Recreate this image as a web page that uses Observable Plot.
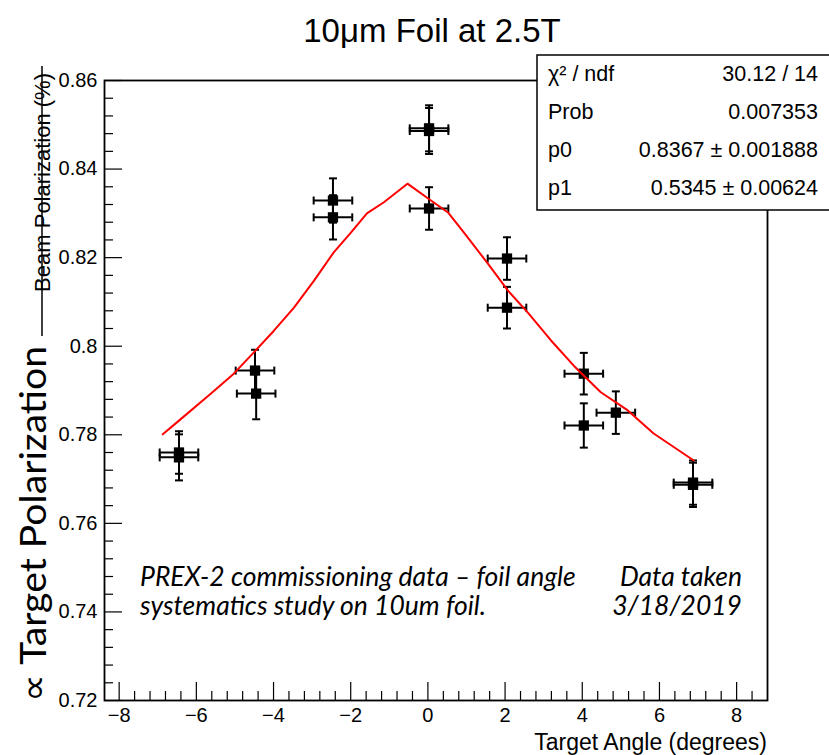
<!DOCTYPE html>
<html><head><meta charset="utf-8">
<script src="https://cdn.jsdelivr.net/npm/d3@7"></script>
<script src="https://cdn.jsdelivr.net/npm/@observablehq/plot@0.6"></script>
<style>body{margin:0;background:#fff;}</style>
</head><body><div id="chart"></div>
<script>
// Measured points (Target Angle in degrees, polarization)
const angle    = [-6.45, -6.45, -4.48, -4.45, -2.46, -2.46, 0.03, 0.03, 0.03, 2.05, 2.05, 4.04, 4.04, 4.87, 6.87, 6.87];
const pol      = [0.7760, 0.7749, 0.7945, 0.7893, 0.8329, 0.8291, 0.8492, 0.8486, 0.8311, 0.8198, 0.8087, 0.7938, 0.7821, 0.7850, 0.7692, 0.7687];
const polErr   = [0.0048, 0.0052, 0.0047, 0.0058, 0.0050, 0.0050, 0.0052, 0.0052, 0.0048, 0.0048, 0.0047, 0.0047, 0.0050, 0.0048, 0.0050, 0.0050];
const angleErr = [0.5, 0.5, 0.5, 0.5, 0.5, 0.5, 0.5, 0.5, 0.5, 0.5, 0.5, 0.5, 0.5, 0.5, 0.5, 0.5];

// Fit curve
const fitAngle = [-6.87, -6.45, -5.62, -5.03, -4.51, -3.99, -3.47, -2.95, -2.44, -1.99, -1.58, -1.14, -0.53, 0.08, 0.52, 0.93, 1.55, 2.07, 2.59, 3.19, 3.78, 4.48, 5.18, 5.85, 6.89];
const fitPol   = [0.7801, 0.7832, 0.7893, 0.7938, 0.7986, 0.8035, 0.8087, 0.8148, 0.8212, 0.8257, 0.8300, 0.8325, 0.8367, 0.8329, 0.8302, 0.8257, 0.8187, 0.8126, 0.8076, 0.8013, 0.7956, 0.7896, 0.7855, 0.7803, 0.7742];

// Axes
const xTicks = [-8, -6, -4, -2, 0, 2, 4, 6, 8];
const yTicks = [0.72, 0.74, 0.76, 0.78, 0.80, 0.82, 0.84, 0.86];
const xDomain = [-8.38, 8.80];
const yDomain = [0.72, 0.86];

// Stats box
const statLabels = ["χ² / ndf", "Prob", "p0", "p1"];
const statValues = ["30.12 / 14", "0.007353", "0.8367 ± 0.001888", "0.5345 ± 0.00624"];

const xMinor = d3.range(-7.6, 8.5, 0.4).map(v => +v.toFixed(1)).filter(v => !xTicks.includes(v));
const yMinor = d3.range(0.724, 0.8595, 0.004).map(v => +v.toFixed(3)).filter(v => !yTicks.some(t => Math.abs(t - v) < 1e-6));

const table = angle.map((a, i) => ({angle: a, pol: pol[i], perr: polErr[i], aerr: angleErr[i]}));
const fit = fitAngle.map((a, i) => ({angle: a, pol: fitPol[i]}));

const W = 829, H = 755, mL = 104, mR = 62, mT = 80, mB = 55;
const pw = W - mL - mR, ph = H - mT - mB;

const hCap = {draw(ctx) { ctx.moveTo(-4, 0); ctx.lineTo(4, 0); }};
const vCap = {draw(ctx) { ctx.moveTo(0, -4); ctx.lineTo(0, 4); }};

const font = "'Liberation Sans', Arial, Helvetica, sans-serif";

const svg = Plot.plot({
  width: W, height: H,
  marginLeft: mL, marginRight: mR, marginTop: mT, marginBottom: mB,
  style: {fontFamily: font, fontSize: "20px", color: "black", background: "white"},
  x: {domain: xDomain, label: null},
  y: {domain: yDomain, label: null},
  marks: [
    Plot.axisX({ticks: xTicks, tickSize: 0, tickPadding: 7, label: null, fontSize: 20}),
    Plot.axisY({ticks: yTicks, tickSize: 0, tickPadding: 7, label: null, fontSize: 20, tickFormat: d => String(+d.toFixed(2))}),
    Plot.tickY(yTicks, {y: d => d, insetRight: pw - 18, stroke: "black", strokeWidth: 1.2}),
    Plot.tickY(yMinor, {y: d => d, insetRight: pw - 9, stroke: "black", strokeWidth: 1.2}),
    Plot.tickX(xTicks, {x: d => d, insetTop: ph - 18, stroke: "black", strokeWidth: 1.2}),
    Plot.tickX(xMinor, {x: d => d, insetTop: ph - 9, stroke: "black", strokeWidth: 1.2}),
    Plot.frame({stroke: "black", strokeWidth: 1.8}),
    Plot.ruleX(table, {x: "angle", y1: d => d.pol - d.perr, y2: d => d.pol + d.perr, stroke: "black", strokeWidth: 2}),
    Plot.ruleY(table, {y: "pol", x1: d => d.angle - d.aerr, x2: d => d.angle + d.aerr, stroke: "black", strokeWidth: 2}),
    Plot.dot(table, {x: "angle", y: d => d.pol + d.perr, symbol: hCap, fill: "none", stroke: "black", strokeWidth: 2}),
    Plot.dot(table, {x: "angle", y: d => d.pol - d.perr, symbol: hCap, fill: "none", stroke: "black", strokeWidth: 2}),
    Plot.dot(table, {x: d => d.angle - d.aerr, y: "pol", symbol: vCap, fill: "none", stroke: "black", strokeWidth: 2}),
    Plot.dot(table, {x: d => d.angle + d.aerr, y: "pol", symbol: vCap, fill: "none", stroke: "black", strokeWidth: 2}),
    Plot.dot(table, {x: "angle", y: "pol", symbol: "square", r: 5.8, fill: "black", stroke: "none"}),
    Plot.line(fit, {x: "angle", y: "pol", stroke: "#ff0000", strokeWidth: 2})
  ]
});

const s = d3.select(svg);
const txt = (x, y, t, size, anchor, fam, extra) => {
  const e = s.append("text").attr("x", x).attr("y", y).attr("text-anchor", anchor)
    .style("font-family", fam || font).style("font-size", size + "px").text(t);
  if (extra) extra(e);
  return e;
};
// Title
txt(432, 42, "10μm Foil at 2.5T", 33, "middle");
// X label
txt(W - mR, 750, "Target Angle (degrees)", 23, "end");
// Y label (struck through)
s.append("text").attr("transform", "translate(50,73) rotate(-90)").attr("text-anchor", "end")
  .style("font-family", font).style("font-size", "22px").text("Beam Polarization (%)");
s.append("line").attr("x1", 42).attr("x2", 42).attr("y1", 66).attr("y2", 336)
  .attr("stroke", "black").attr("stroke-width", 1.5);
s.append("text").attr("transform", "translate(46,702) rotate(-90)").attr("text-anchor", "start")
  .attr("textLength", 356).attr("lengthAdjust", "spacingAndGlyphs")
  .style("font-family", "Lato, 'Open Sans', sans-serif").style("font-size", "36px").text("∝ Target Polarization");
// Annotation
const ann = [["PREX-2 commissioning data – foil angle", 140, 586, "start"], ["systematics study on 10um foil.", 140, 615, "start"],
             ["Data taken", 742, 586, "end"], ["3/18/2019", 742, 615, "end"]];
ann.forEach(([t, x, y, a]) => txt(x, y, t, 26.5, a, "Lato, sans-serif", e => e.style("font-style", "italic")));
// Stats box
s.append("rect").attr("x", 537).attr("y", 55).attr("width", 300).attr("height", 155)
  .attr("fill", "white").attr("stroke", "black").attr("stroke-width", 1.5);
statLabels.forEach((t, i) => {
  const y = 81 + i * 38;
  txt(548, y, t, 21.5, "start");
  txt(818, y, statValues[i], 21.5, "end");
});

document.getElementById("chart").appendChild(svg);
</script>
</body></html>
